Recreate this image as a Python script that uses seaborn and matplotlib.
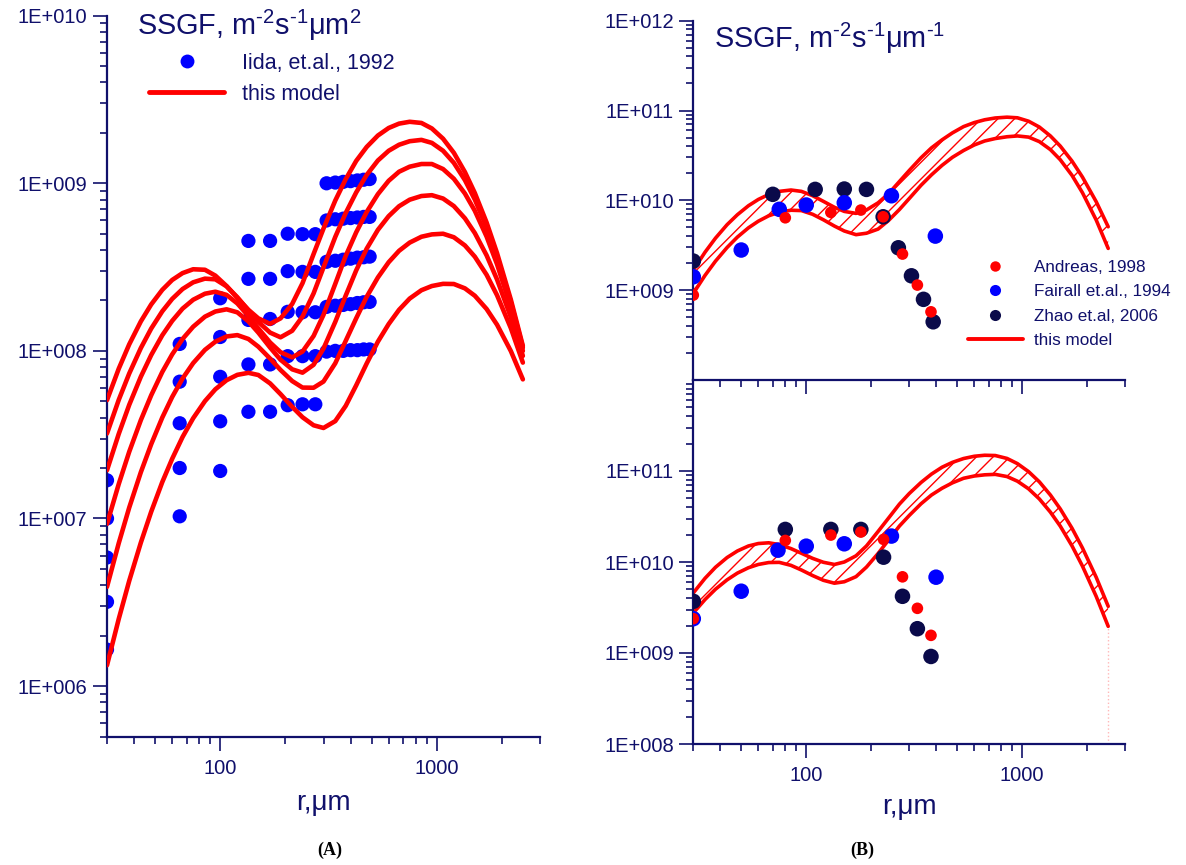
import numpy as np
import pandas as pd
import matplotlib
matplotlib.use("Agg")
import matplotlib.pyplot as plt
import seaborn as sns
from matplotlib.lines import Line2D
from matplotlib.ticker import FixedLocator, FuncFormatter, LogLocator, NullFormatter

W, H = 1186, 865
NAVY = "#10106b"
ZHAO_C = "#0a0a4a"

# ---- data (SSGF stored as log10) ----
R_GRID = [30, 34, 38, 43, 48, 54, 60, 67, 75, 85, 95, 107, 120, 135, 150, 170, 190, 215, 240,
          270, 300, 340, 380, 425, 475, 535, 600, 670, 750, 850, 950, 1070, 1200, 1350, 1500,
          1700, 1900, 2200, 2500]

# panel A: six model curves
model_a = {
    "c1": [7.706, 7.894, 8.039, 8.176, 8.277, 8.364, 8.423, 8.464, 8.487, 8.484, 8.449, 8.387,
           8.316, 8.245, 8.194, 8.161, 8.194, 8.280, 8.404, 8.578, 8.730, 8.897, 9.025, 9.134,
           9.217, 9.285, 9.330, 9.356, 9.367, 9.360, 9.327, 9.266, 9.182, 9.067, 8.942, 8.766,
           8.583, 8.306, 8.030],
    "c2": [7.507, 7.708, 7.865, 8.017, 8.133, 8.236, 8.310, 8.369, 8.409, 8.431, 8.427, 8.385,
           8.320, 8.241, 8.173, 8.109, 8.081, 8.120, 8.205, 8.343, 8.498, 8.680, 8.823, 8.946,
           9.050, 9.136, 9.194, 9.230, 9.251, 9.259, 9.241, 9.194, 9.122, 9.019, 8.903, 8.737,
           8.560, 8.291, 8.020],
    "c3": [7.288, 7.505, 7.678, 7.846, 7.975, 8.093, 8.179, 8.252, 8.305, 8.341, 8.353, 8.334,
           8.283, 8.208, 8.134, 8.050, 7.992, 7.961, 7.996, 8.089, 8.215, 8.400, 8.567, 8.708,
           8.829, 8.935, 9.015, 9.069, 9.099, 9.115, 9.115, 9.085, 9.027, 8.939, 8.836, 8.682,
           8.517, 8.261, 8.000],
    "c4": [6.968, 7.206, 7.398, 7.587, 7.735, 7.874, 7.979, 8.071, 8.144, 8.204, 8.235, 8.248,
           8.230, 8.176, 8.109, 8.020, 7.947, 7.890, 7.870, 7.917, 8.014, 8.173, 8.330, 8.481,
           8.610, 8.722, 8.804, 8.863, 8.902, 8.924, 8.929, 8.909, 8.864, 8.791, 8.703, 8.570,
           8.426, 8.201, 7.970],
    "c5": [6.592, 6.853, 7.065, 7.276, 7.443, 7.602, 7.725, 7.835, 7.927, 8.006, 8.055, 8.086,
           8.094, 8.071, 8.025, 7.954, 7.886, 7.820, 7.781, 7.780, 7.817, 7.926, 8.060, 8.195,
           8.323, 8.438, 8.529, 8.597, 8.646, 8.681, 8.695, 8.699, 8.678, 8.629, 8.562, 8.454,
           8.332, 8.136, 7.930],
    "c6": [6.124, 6.401, 6.628, 6.856, 7.040, 7.217, 7.356, 7.486, 7.598, 7.700, 7.771, 7.825,
           7.857, 7.869, 7.856, 7.806, 7.742, 7.666, 7.604, 7.556, 7.540, 7.581, 7.672, 7.795,
           7.925, 8.055, 8.160, 8.245, 8.312, 8.362, 8.387, 8.400, 8.399, 8.373, 8.329, 8.250,
           8.156, 7.999, 7.830],
}

# panel A: Iida et al. 1992 points
iida_r_small = [30, 65, 100, 135, 170, 205, 240, 275]
iida_small = [
    [1.69e7, 1.10e8, 2.06e8, 4.53e8, 4.53e8, 5.00e8, 4.97e8, 4.97e8],
    [1.00e7, 6.55e7, 1.21e8, 2.69e8, 2.69e8, 2.99e8, 2.96e8, 2.96e8],
    [5.85e6, 3.70e7, 7.00e7, 1.53e8, 1.55e8, 1.71e8, 1.70e8, 1.70e8],
    [3.18e6, 2.00e7, 3.80e7, 8.30e7, 8.30e7, 9.30e7, 9.30e7, 9.30e7],
    [1.65e6, 1.03e7, 1.92e7, 4.33e7, 4.33e7, 4.74e7, 4.80e7, 4.80e7],
]
iida_r_large = [310, 340, 370, 400, 430, 460, 490]
iida_large = [
    [1.00e9, 1.01e9, 1.02e9, 1.03e9, 1.04e9, 1.05e9, 1.06e9],
    [6.00e8, 6.10e8, 6.15e8, 6.20e8, 6.25e8, 6.30e8, 6.30e8],
    [3.40e8, 3.45e8, 3.50e8, 3.55e8, 3.60e8, 3.62e8, 3.65e8],
    [1.83e8, 1.86e8, 1.88e8, 1.90e8, 1.93e8, 1.95e8, 1.96e8],
    [9.9e7, 1.00e8, 1.00e8, 1.01e8, 1.01e8, 1.02e8, 1.02e8],
]

# panel B top
bt_upper = [9.223, 9.423, 9.579, 9.729, 9.840, 9.940, 10.010, 10.065, 10.100, 10.115, 10.100,
            10.052, 9.989, 9.923, 9.877, 9.855, 9.893, 9.972, 10.072, 10.210, 10.333, 10.474,
            10.584, 10.673, 10.751, 10.821, 10.866, 10.897, 10.917, 10.926, 10.919, 10.881,
            10.816, 10.717, 10.604, 10.437, 10.259, 9.985, 9.706]
bt_lower = [8.964, 9.165, 9.323, 9.475, 9.591, 9.694, 9.768, 9.828, 9.868, 9.890, 9.886, 9.845,
            9.784, 9.714, 9.659, 9.618, 9.634, 9.680, 9.774, 9.898, 10.021, 10.168, 10.284,
            10.389, 10.479, 10.555, 10.617, 10.661, 10.688, 10.708, 10.717, 10.704, 10.654,
            10.565, 10.452, 10.278, 10.085, 9.781, 9.465]
bt_zhao_r = [30, 70, 110, 150, 190, 227, 267, 307, 349, 387]
bt_zhao = [9.324, 10.067, 10.122, 10.126, 10.122, 9.817, 9.472, 9.160, 8.898, 8.648]
bt_fair_r = [30, 50, 75, 100, 150, 248, 396]
bt_fair = [9.149, 9.447, 9.900, 9.948, 9.973, 10.051, 9.602]
bt_andr_r = [30, 80, 130, 179, 227, 279, 327, 378]
bt_andr = [8.945, 9.806, 9.866, 9.892, 9.817, 9.402, 9.057, 8.759]

# panel B bottom
bb_upper = [9.660, 9.821, 9.942, 10.049, 10.121, 10.176, 10.203, 10.211, 10.192, 10.147, 10.096,
            10.040, 9.997, 9.973, 10.000, 10.068, 10.176, 10.335, 10.480, 10.636, 10.753,
            10.874, 10.966, 11.041, 11.095, 11.137, 11.162, 11.173, 11.170, 11.138, 11.081,
            10.993, 10.881, 10.736, 10.583, 10.371, 10.154, 9.832, 9.513]
bb_lower = [9.440, 9.588, 9.701, 9.804, 9.878, 9.937, 9.973, 9.994, 9.996, 9.963, 9.912, 9.851,
            9.799, 9.767, 9.783, 9.839, 9.944, 10.093, 10.239, 10.395, 10.512, 10.640, 10.736,
            10.810, 10.870, 10.920, 10.945, 10.958, 10.963, 10.939, 10.888, 10.804, 10.693,
            10.548, 10.394, 10.177, 9.955, 9.622, 9.293]
bb_zhao_r = [30, 80, 130, 179, 228, 279, 327, 378]
bb_zhao = [9.568, 10.358, 10.358, 10.358, 10.053, 9.623, 9.267, 8.962]
bb_fair_r = [30, 50, 74, 100, 150, 248, 399]
bb_fair = [9.377, 9.679, 10.130, 10.174, 10.200, 10.285, 9.833]
bb_andr_r = [30, 80, 130, 179, 228, 279, 327, 378]
bb_andr = [9.377, 10.237, 10.296, 10.329, 10.248, 9.837, 9.491, 9.194]

# ---- style ----
sns.set_theme(style="white")
plt.rcParams["font.family"] = ["Liberation Sans", "DejaVu Sans"]
plt.rcParams["mathtext.fontset"] = "custom"
plt.rcParams["mathtext.rm"] = "Liberation Sans"
plt.rcParams["mathtext.it"] = "Liberation Sans:italic"
plt.rcParams["hatch.linewidth"] = 1.0
plt.rcParams["hatch.color"] = "red"

fig = plt.figure(figsize=(W / 100, H / 100), dpi=100)


def px_axes(x0, y0, x1, y1):
    return fig.add_axes([x0 / W, 1 - y1 / H, (x1 - x0) / W, (y1 - y0) / H])


def e_fmt(v, pos):
    return f"1E+{int(round(np.log10(v))):03d}"


def style_axes(ax, ymajor, ylim):
    ax.set_xscale("log")
    ax.set_yscale("log")
    ax.set_xlim(30, 3000)
    ax.set_ylim(*ylim)
    ax.xaxis.set_major_locator(FixedLocator([100, 1000]))
    ax.xaxis.set_minor_locator(FixedLocator([30, 40, 50, 60, 70, 80, 90, 200, 300, 400, 500,
                                             600, 700, 800, 900, 2000, 3000]))
    ax.xaxis.set_major_formatter(FuncFormatter(lambda v, p: f"{int(v)}"))
    ax.xaxis.set_minor_formatter(NullFormatter())
    ax.yaxis.set_major_locator(FixedLocator(ymajor))
    ax.yaxis.set_minor_locator(LogLocator(base=10, subs=np.arange(2, 10), numticks=20))
    ax.yaxis.set_major_formatter(FuncFormatter(e_fmt))
    ax.yaxis.set_minor_formatter(NullFormatter())
    for s in ["top", "right"]:
        ax.spines[s].set_visible(False)
    for s in ["left", "bottom"]:
        ax.spines[s].set_color(NAVY)
        ax.spines[s].set_linewidth(1.6)
    ax.tick_params(which="major", direction="out", length=10, width=1.2, color=NAVY,
                   labelcolor=NAVY, labelsize=14.5, pad=4, left=True, bottom=True)
    ax.tick_params(which="minor", direction="out", length=5, width=1.2, color=NAVY,
                   left=True, bottom=True)
    ax.tick_params(axis="x", which="major", pad=6)
    ax.set_facecolor("none")
    ax.grid(False)
    ax.set_ylabel("")
    ax.set_xlabel("")


# ---- panel A ----
axA = px_axes(107, 15.7, 540, 736.5)
curves = pd.DataFrame(
    [(r, 10 ** v, name) for name, vals in model_a.items() for r, v in zip(R_GRID, vals)],
    columns=["r", "ssgf", "curve"],
)
pts = pd.DataFrame(
    [(r, v) for row in iida_small for r, v in zip(iida_r_small, row)]
    + [(r, v) for row in iida_large for r, v in zip(iida_r_large, row)],
    columns=["r", "ssgf"],
)
sns.scatterplot(data=pts, x="r", y="ssgf", color="blue", s=105, edgecolor="none",
                ax=axA, zorder=2)
sns.lineplot(data=curves, x="r", y="ssgf", units="curve", estimator=None, sort=False,
             color="red", lw=3.3, ax=axA, zorder=3, legend=False)
style_axes(axA, [1e6, 1e7, 1e8, 1e9, 1e10], (5e5, 1e10))
axA.set_xlabel("r,μm", fontsize=20, color=NAVY, labelpad=9)

handles_a = [Line2D([], [], ls="none", marker="o", color="blue", ms=10, mec="none"),
             Line2D([], [], color="red", lw=3.5)]
leg = axA.legend(handles_a, ["Iida, et.al., 1992", "this model"], loc="upper left",
                 bbox_to_anchor=(149 / W, 1 - 53 / H), bbox_transform=fig.transFigure,
                 frameon=False, fontsize=15.5, handlelength=3.5, handletextpad=0.8,
                 labelspacing=0.45, borderpad=0, borderaxespad=0)
for t in leg.get_texts():
    t.set_color(NAVY)

fig.text(137 / W, 1 - 35 / H, "SSGF, m$^{\u20102}$s$^{\u20101}$μm$^{2}$", fontsize=20.8,
         color=NAVY, va="baseline", ha="left")


# ---- panel B ----
def draw_b(ax, upper, lower, zr, zv, fr, fv, ar, av):
    r = np.array(R_GRID, dtype=float)
    lo, up = 10 ** np.array(lower), 10 ** np.array(upper)
    ax.fill_between(r, lo, up, facecolor="none", edgecolor="red", hatch="//",
                    linewidth=0, zorder=1)
    band = pd.DataFrame({"r": np.concatenate([r, r]), "ssgf": np.concatenate([up, lo]),
                         "edge": ["up"] * len(r) + ["lo"] * len(r)})
    sns.lineplot(data=band, x="r", y="ssgf", units="edge", estimator=None, sort=False,
                 color="red", lw=2.6, ax=ax, zorder=2, legend=False)
    sns.scatterplot(x=zr, y=10 ** np.array(zv), color=ZHAO_C, s=125, edgecolor="none",
                    ax=ax, zorder=3)
    sns.scatterplot(x=fr, y=10 ** np.array(fv), color="blue", s=125, edgecolor="none",
                    ax=ax, zorder=4)
    sns.scatterplot(x=ar, y=10 ** np.array(av), color="red", s=70, edgecolor="none",
                    ax=ax, zorder=5)
    return r, lo


axBt = px_axes(693.3, 20.7, 1125.3, 380)
draw_b(axBt, bt_upper, bt_lower, bt_zhao_r, bt_zhao, bt_fair_r, bt_fair, bt_andr_r, bt_andr)
style_axes(axBt, [1e9, 1e10, 1e11, 1e12], (1e8, 1e12))
axBt.tick_params(labelbottom=False)

axBb = px_axes(693.3, 380, 1125.3, 744)
r_b, lo_b = draw_b(axBb, bb_upper, bb_lower, bb_zhao_r, bb_zhao, bb_fair_r, bb_fair,
                   bb_andr_r, bb_andr)
# faint dotted drop line under the end of the lower curve
axBb.vlines(r_b[-1], 1e8, lo_b[-1], colors="#ffb8b8", linestyles=":", lw=1, zorder=1)
style_axes(axBb, [1e8, 1e9, 1e10, 1e11], (1e8, 1e12))
axBb.set_xlabel("r,μm", fontsize=20, color=NAVY, labelpad=6)

handles_b = [Line2D([], [], ls="none", marker="o", color="red", ms=7.5, mec="none"),
             Line2D([], [], ls="none", marker="o", color="blue", ms=8, mec="none"),
             Line2D([], [], ls="none", marker="o", color=ZHAO_C, ms=8, mec="none"),
             Line2D([], [], color="red", lw=2.8)]
leg_b = axBt.legend(handles_b, ["Andreas, 1998", "Fairall et.al., 1994", "Zhao et.al, 2006",
                                "this model"],
                    loc="upper left", bbox_to_anchor=(968 / W, 1 - 260 / H),
                    bbox_transform=fig.transFigure, frameon=False, fontsize=12.3,
                    handlelength=3.2, handletextpad=0.65, labelspacing=0.55, borderpad=0,
                    borderaxespad=0)
for t in leg_b.get_texts():
    t.set_color(NAVY)

fig.text(714 / W, 1 - 48 / H, "SSGF, m$^{\u20102}$s$^{\u20101}$μm$^{\u20101}$", fontsize=20.8,
         color=NAVY, va="baseline", ha="left")

fig.text(330 / W, 1 - 850 / H, "(A)", ha="center", va="center", fontsize=13,
         fontweight="bold", family=["Liberation Serif", "DejaVu Serif"], color="black")
fig.text(862 / W, 1 - 850 / H, "(B)", ha="center", va="center", fontsize=13,
         fontweight="bold", family=["Liberation Serif", "DejaVu Serif"], color="black")

fig.savefig("out.png", dpi=100, facecolor="white")
